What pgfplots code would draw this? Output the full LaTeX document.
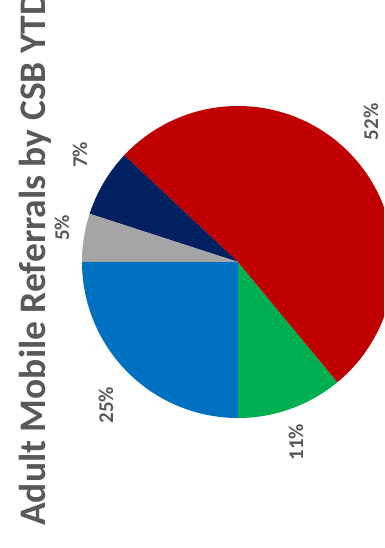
\documentclass[border=0pt]{standalone}
\usepackage{pgfplots}
\pgfplotsset{compat=1.18}
\usepackage{fontspec}
\setmainfont{Carlito}
\definecolor{cRed}{HTML}{C00000}
\definecolor{cGreen}{HTML}{00B050}
\definecolor{cBlue}{HTML}{0070C0}
\definecolor{cGray}{HTML}{A5A5A5}
\definecolor{cNavy}{HTML}{002060}
\definecolor{txt}{HTML}{595959}
% slice percentages (cumulative angles start at 180 deg, going counter-clockwise)
% Blue 25, Green 11, Red 52, Navy 7, Gray 5
\begin{document}
\begin{tikzpicture}
\useasboundingbox (0,0) rectangle (384pt,548pt);
\begin{axis}[at={(0,0)}, anchor=south west, scale only axis,
  width=384pt, height=548pt, xmin=0, xmax=384, ymin=0, ymax=548,
  hide axis, clip=true]
% centre (238,286), radius 156; angle = 180 + 3.6*cumulative percent
\addplot[fill=cBlue, draw=none, domain=180:270, samples=60, variable=\t]
  ({238+156*cos(\t)},{286+156*sin(\t)}) -- (axis cs:238,286) -- cycle;
\addplot[fill=cGreen, draw=none, domain=270:309.6, samples=40, variable=\t]
  ({238+156*cos(\t)},{286+156*sin(\t)}) -- (axis cs:238,286) -- cycle;
\addplot[fill=cRed, draw=none, domain=309.6:496.8, samples=120, variable=\t]
  ({238+156*cos(\t)},{286+156*sin(\t)}) -- (axis cs:238,286) -- cycle;
\addplot[fill=cNavy, draw=none, domain=136.8:162, samples=30, variable=\t]
  ({238+156*cos(\t)},{286+156*sin(\t)}) -- (axis cs:238,286) -- cycle;
\addplot[fill=cGray, draw=none, domain=162:180, samples=30, variable=\t]
  ({238+156*cos(\t)},{286+156*sin(\t)}) -- (axis cs:238,286) -- cycle;
\end{axis}
\begin{scope}[x=1pt,y=1pt]
\node[rotate=90, anchor=base west, text=txt, font=\bfseries\fontsize{37.5}{40}\selectfont, inner sep=0pt] at (45,22) {Adult Mobile Referrals by CSB YTD};
\begin{scope}[every node/.style={rotate=90, text=txt, font=\bfseries\fontsize{21}{24}\selectfont, inner sep=0pt}]
\node at (371,426) {52\%};
\node at (80,393) {7\%};
\node at (62,320) {5\%};
\node at (106,143) {25\%};
\node at (296,106) {11\%};
\end{scope}
\end{scope}
\end{tikzpicture}
\end{document}
